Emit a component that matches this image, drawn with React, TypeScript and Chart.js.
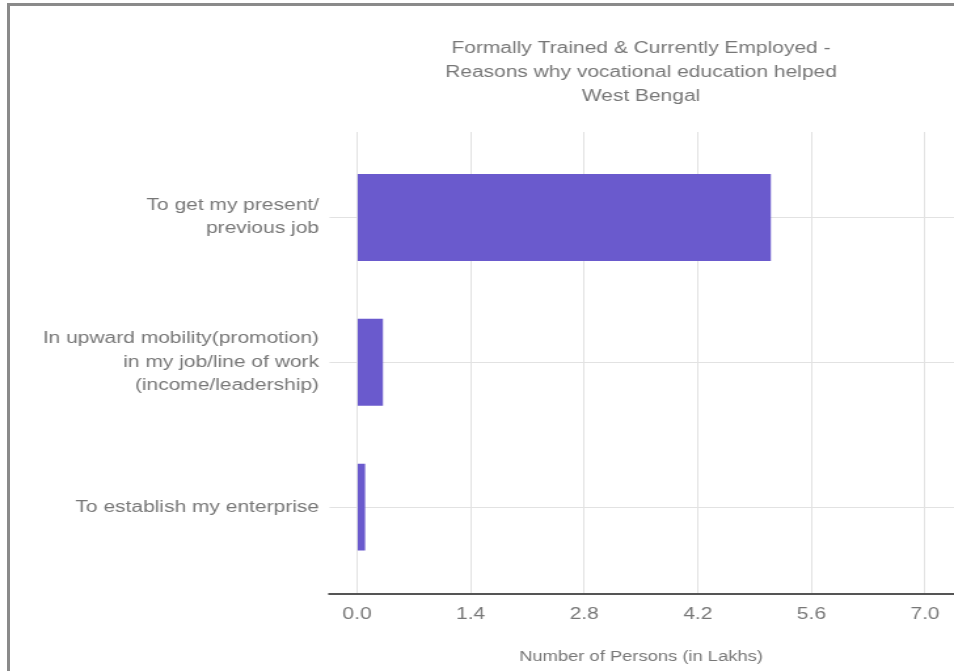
import React, { useEffect, useRef } from 'react';
import { Chart, registerables } from 'chart.js';

Chart.register(...registerables);

// ---- data ----
const titleLines = [
  'Formally Trained & Currently Employed -',
  'Reasons why vocational education helped',
  'West Bengal',
];
const categories: string[][] = [
  ['To get my present/', 'previous job'],
  ['In upward mobility(promotion)', 'in my job/line of work', '(income/leadership)'],
  ['To establish my enterprise'],
];
const values = [5.1, 0.32, 0.1];
const xTicks = [0, 1.4, 2.8, 4.2, 5.6, 7.0];
const xAxisTitle = 'Number of Persons (in Lakhs)';

// ---- styling ----
const FONT = "'Liberation Sans', Arial, Helvetica, sans-serif";
const TEXT = '#777777';
const GRID = '#e2e2e2';
const BAR = '#6a5acd';
const INTERNAL_W = 728; // canvas drawn narrower, then stretched to 954 (reference is horizontally stretched)
const SX = 954 / INTERNAL_W;
const H = 671;
const TICK_EXT = 21;

// extends horizontal grid lines and the baseline past the plot area edges
const axisLinePlugin = {
  id: 'axisLine',
  beforeDatasetsDraw(chart: any) {
    const { ctx, chartArea } = chart;
    const ys = chart.scales.y;
    ctx.save();
    ctx.strokeStyle = GRID;
    ctx.lineWidth = 1;
    ys.ticks.forEach((t: any) => {
      const py = Math.round(ys.getPixelForValue(t.value)) + 0.5;
      ctx.beginPath();
      ctx.moveTo(chartArea.right, py);
      ctx.lineTo(chart.width, py);
      ctx.stroke();
    });
    ctx.restore();
  },
  afterDraw(chart: any) {
    const { ctx, chartArea } = chart;
    ctx.save();
    ctx.strokeStyle = '#555555';
    ctx.lineWidth = 2;
    ctx.beginPath();
    ctx.moveTo(chartArea.left - TICK_EXT - 1, chartArea.bottom);
    ctx.lineTo(chart.width, chartArea.bottom);
    ctx.stroke();
    ctx.restore();
  },
};

export default function App() {
  const ref = useRef<HTMLCanvasElement | null>(null);

  useEffect(() => {
    if (!ref.current) return;
    const chart = new Chart(ref.current, {
      type: 'bar',
      data: {
        datasets: [
          {
            data: values.map((v, i) => ({ x: v, y: i })),
            backgroundColor: BAR,
            borderWidth: 0,
            barPercentage: 0.6,
            categoryPercentage: 1,
          },
        ],
      },
      plugins: [axisLinePlugin],
      options: {
        indexAxis: 'y',
        responsive: false,
        animation: false,
        layout: { padding: { left: 0, right: 22 / SX, top: 0, bottom: 0 } },
        plugins: {
          legend: { display: false },
          tooltip: { enabled: false },
          title: {
            display: true,
            text: titleLines,
            fullSize: false,
            color: TEXT,
            font: { family: FONT, size: 16, weight: 'normal', lineHeight: 1.5 },
            padding: { top: 37, bottom: 23 },
          },
        },
        scales: {
          x: {
            type: 'linear',
            min: 0,
            max: 7,
            afterBuildTicks: (axis: any) => {
              axis.ticks = xTicks.map((v) => ({ value: v }));
            },
            ticks: {
              autoSkip: false,
              color: TEXT,
              padding: 11,
              font: { family: FONT, size: 16 },
              callback: (v: any) => Number(v).toFixed(1),
            },
            grid: { color: GRID, lineWidth: 1, drawTicks: false },
            border: { display: false },
            title: {
              display: true,
              text: xAxisTitle,
              color: TEXT,
              font: { family: FONT, size: 14 },
              padding: { top: 14, bottom: 5 },
            },
          },
          y: {
            type: 'linear',
            reverse: true,
            offset: false,
            min: -0.59,
            max: 2.6,
            afterBuildTicks: (axis: any) => {
              axis.ticks = categories.map((_, i) => ({ value: i }));
            },
            afterFit: (axis: any) => {
              axis.width = 357 / SX;
            },
            ticks: {
              autoSkip: false,
              color: TEXT,
              padding: 8,
              font: { family: FONT, size: 16, lineHeight: 1.45 },
              callback: (v: any) => categories[Math.round(Number(v))] ?? '',
            },
            grid: { color: GRID, lineWidth: 1, offset: false, drawTicks: true, tickLength: TICK_EXT },
            border: { display: false },
          },
        },
      } as any,
    });
    return () => chart.destroy();
  }, []);

  return (
    <div style={{ position: 'fixed', left: 0, top: 0, width: 954, height: H, background: '#fff', overflow: 'hidden' }}>
      <canvas
        ref={ref}
        width={INTERNAL_W}
        height={H}
        style={{ position: 'absolute', left: 0, top: 0, width: '954px', height: `${H}px` }}
      />
      <div
        style={{
          position: 'absolute',
          left: 7,
          top: 3,
          right: 0,
          bottom: 0,
          borderTop: '3px solid #8a8a8a',
          borderLeft: '3px solid #8a8a8a',
          pointerEvents: 'none',
        }}
      />
    </div>
  );
}
